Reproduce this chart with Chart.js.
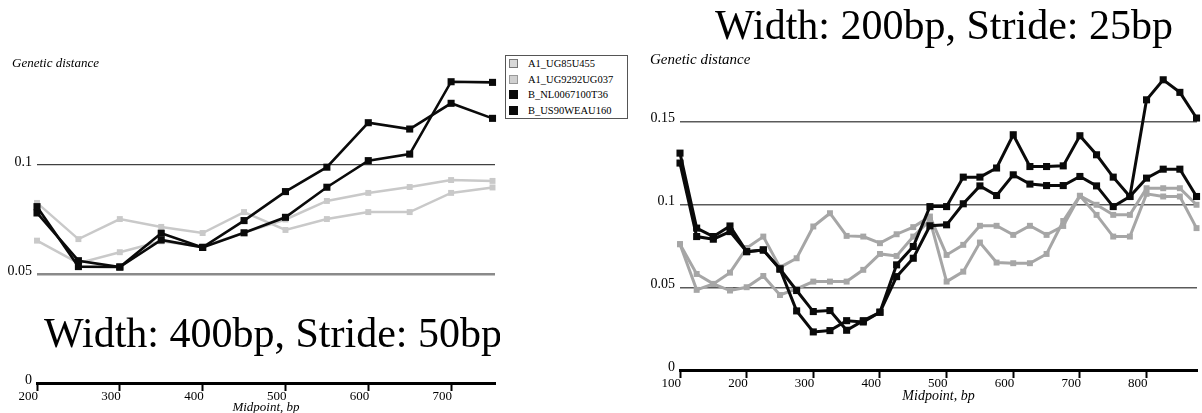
<!DOCTYPE html>
<html>
<head>
<meta charset="utf-8">
<script src="https://cdn.jsdelivr.net/npm/chart.js@4.4.1/dist/chart.umd.min.js"></script>
<style>
  html, body { margin: 0; padding: 0; background: #fff; }
  #page { position: relative; width: 1202px; height: 413px; overflow: hidden; background: #fff; }
  #leftPanel { position: absolute; left: 0; top: 0; }
  #rightPanel { position: absolute; left: 600px; top: 0; }
  #legend {
    position: absolute; left: 505px; top: 55px; width: 123px; height: 64px;
    box-sizing: border-box; border: 1px solid #555; background: #fff;
    font: 10.5px 'Liberation Serif', 'Times New Roman', serif; color: #000; z-index: 2;
  }
  #legend .row { height: 15.5px; display: flex; align-items: center; white-space: nowrap; }
  #legend .sw { width: 9px; height: 9px; box-sizing: border-box; margin-left: 3px; margin-right: 10px; border: 1px solid #666; }
</style>
</head>
<body>
<div id="page">
  <canvas id="leftPanel" width="500" height="413"></canvas>
  <canvas id="rightPanel" width="602" height="413"></canvas>
  <div id="legend"></div>
</div>
<script>
// ---- Window width 400bp, stride 50bp ----
const leftMidpoints = [200, 250, 300, 350, 400, 450, 500, 550, 600, 650, 700, 750];
const leftA1_UG85U455    = [0.0826, 0.0660, 0.0752, 0.0716, 0.0688, 0.0784, 0.0702, 0.0752, 0.0784, 0.0784, 0.0872, 0.0897];
const leftA1_UG9292UG037 = [0.0653, 0.0550, 0.0600, 0.0650, 0.0625, 0.0690, 0.0750, 0.0835, 0.0872, 0.0899, 0.0931, 0.0927];
const leftB_NL0067100T36 = [0.0809, 0.0534, 0.0532, 0.0656, 0.0622, 0.0689, 0.0760, 0.0898, 0.1020, 0.1050, 0.1382, 0.1379];
const leftB_US90WEAU160  = [0.0780, 0.0561, 0.0532, 0.0687, 0.0622, 0.0745, 0.0878, 0.0990, 0.1194, 0.1165, 0.1283, 0.1214];
const leftXTicks = [200, 300, 400, 500, 600, 700];
const leftYTicks = [0, 0.05, 0.1];

// ---- Window width 200bp, stride 25bp ----
const rightMidpoints = [100, 125, 150, 175, 200, 225, 250, 275, 300, 325, 350, 375, 400, 425, 450, 475,
                        500, 525, 550, 575, 600, 625, 650, 675, 700, 725, 750, 775, 800, 825, 850, 875];
const rightA1_UG85U455    = [0.0760, 0.0580, 0.0520, 0.0480, 0.0500, 0.0568, 0.0453, 0.0490, 0.0534, 0.0534, 0.0534, 0.0605, 0.0701, 0.0689, 0.0806, 0.0905,
                             0.0534, 0.0594, 0.0770, 0.0649, 0.0645, 0.0645, 0.0701, 0.0900, 0.1052, 0.0937, 0.0806, 0.0806, 0.1064, 0.1048, 0.1048, 0.0857];
const rightA1_UG9292UG037 = [0.0760, 0.0484, 0.0520, 0.0588, 0.0737, 0.0806, 0.0620, 0.0675, 0.0867, 0.0947, 0.0810, 0.0806, 0.0766, 0.0820, 0.0863, 0.0927,
                             0.0695, 0.0756, 0.0871, 0.0871, 0.0816, 0.0871, 0.0816, 0.0870, 0.1052, 0.0998, 0.0937, 0.0937, 0.1098, 0.1098, 0.1098, 0.0998];
const rightB_NL0067100T36 = [0.1310, 0.0857, 0.0806, 0.0870, 0.0715, 0.0725, 0.0610, 0.0480, 0.0353, 0.0359, 0.0240, 0.0298, 0.0349, 0.0635, 0.0746, 0.0987,
                             0.0987, 0.1165, 0.1165, 0.1220, 0.1421, 0.1229, 0.1229, 0.1233, 0.1415, 0.1300, 0.1165, 0.1048, 0.1632, 0.1753, 0.1677, 0.1522];
const rightB_US90WEAU160  = [0.1250, 0.0806, 0.0790, 0.0836, 0.0715, 0.0725, 0.0610, 0.0357, 0.0230, 0.0238, 0.0298, 0.0290, 0.0349, 0.0564, 0.0675, 0.0871,
                             0.0877, 0.1004, 0.1112, 0.1054, 0.1179, 0.1123, 0.1114, 0.1114, 0.1169, 0.1112, 0.0987, 0.1048, 0.1159, 0.1213, 0.1213, 0.1048];
const rightXTicks = [100, 200, 300, 400, 500, 600, 700, 800];
const rightYTicks = [0, 0.05, 0.1, 0.15];

const seriesNames = ['A1_UG85U455', 'A1_UG9292UG037', 'B_NL0067100T36', 'B_US90WEAU160'];

const SERIF = "'Liberation Serif', 'Times New Roman', serif";
Chart.defaults.font.family = SERIF;
Chart.defaults.color = '#000';

// Free-standing panel text (headline and the vertical-axis caption)
const panelText = {
  id: 'panelText',
  afterDraw(chart, args, opts) {
    const ctx = chart.ctx;
    ctx.save();
    ctx.fillStyle = '#000';
    ctx.textAlign = 'left';
    ctx.textBaseline = 'alphabetic';
    for (const item of opts.items || []) {
      ctx.font = item.font;
      ctx.fillText(item.text, item.x, item.y);
    }
    ctx.restore();
  }
};

function series(label, xs, ys, color, width, radius, order) {
  return {
    label,
    data: xs.map((x, i) => ({ x, y: ys[i] })),
    borderColor: color,
    backgroundColor: color,
    borderWidth: width,
    pointStyle: 'rect',
    pointRadius: radius,
    pointHoverRadius: radius,
    pointBorderWidth: 0,
    pointBackgroundColor: color,
    tension: 0,
    fill: false,
    clip: false,
    order
  };
}

function panelOptions(cfg) {
  return {
    responsive: false,
    animation: false,
    events: [],
    layout: { padding: { top: cfg.padTop, right: cfg.padRight, left: 0, bottom: 0 } },
    plugins: {
      legend: { display: false },
      tooltip: { enabled: false },
      panelText: { items: cfg.texts }
    },
    scales: {
      x: {
        type: 'linear',
        min: cfg.xMin,
        max: cfg.xMax,
        afterBuildTicks: s => { s.ticks = cfg.xTicks.map(v => ({ value: v })); },
        afterFit: s => { s.height = cfg.xAxisHeight; },
        border: { display: true, color: '#000', width: 3 },
        grid: { drawOnChartArea: false, drawTicks: true, tickLength: 8, tickWidth: 2, tickColor: '#000', color: '#000' },
        ticks: {
          align: 'end', padding: -2, labelOffset: 1, autoSkip: false, maxRotation: 0,
          font: { size: 13 }, callback: v => String(v)
        },
        title: {
          display: true, text: 'Midpoint, bp',
          font: { size: cfg.axisTitleSize, style: 'italic', lineHeight: 1 },
          padding: { top: 0, bottom: cfg.axisTitlePad }
        }
      },
      y: {
        type: 'linear',
        min: 0,
        max: cfg.yMax,
        afterBuildTicks: s => { s.ticks = cfg.yTicks.map(v => ({ value: v })); },
        afterFit: s => { s.width = cfg.yAxisWidth; },
        border: { display: false },
        grid: {
          drawTicks: false,
          color: c => (c.tick && c.tick.value === 0) ? 'rgba(0,0,0,0)' : cfg.gridColor(c.tick ? c.tick.value : 0),
          lineWidth: c => cfg.gridWidth(c.tick ? c.tick.value : 0)
        },
        ticks: { padding: 5, labelOffset: -3, font: { size: cfg.yLabelSize }, callback: v => String(v) }
      }
    }
  };
}

const LIGHT = '#c9c9c9';
const GREY = '#a6a6a6';
const BLACK = '#0a0a0a';

new Chart(document.getElementById('leftPanel'), {
  type: 'line',
  data: {
    datasets: [
      series(seriesNames[0], leftMidpoints, leftA1_UG85U455, LIGHT, 2.5, 4.2, 2),
      series(seriesNames[1], leftMidpoints, leftA1_UG9292UG037, LIGHT, 2.5, 4.2, 2),
      series(seriesNames[2], leftMidpoints, leftB_NL0067100T36, BLACK, 2.6, 5, 1),
      series(seriesNames[3], leftMidpoints, leftB_US90WEAU160, BLACK, 2.6, 5, 1)
    ]
  },
  options: panelOptions({
    padTop: 56, padRight: 3,
    xMin: 200, xMax: 753, xTicks: leftXTicks, xAxisHeight: 30,
    yMax: 0.15, yTicks: leftYTicks, yAxisWidth: 37, yLabelSize: 14,
    axisTitleSize: 13, axisTitlePad: -1.5,
    gridColor: v => v === 0.05 ? '#8a8a8a' : '#404040',
    gridWidth: v => v === 0.05 ? 2.5 : 1.2,
    texts: [
      { text: 'Genetic distance', x: 12, y: 67, font: 'italic 13px ' + SERIF },
      { text: 'Width: 400bp, Stride: 50bp', x: 44, y: 347, font: '42px ' + SERIF }
    ]
  }),
  plugins: [panelText]
});

new Chart(document.getElementById('rightPanel'), {
  type: 'line',
  data: {
    datasets: [
      series(seriesNames[0], rightMidpoints, rightA1_UG85U455, GREY, 3, 4.2, 2),
      series(seriesNames[1], rightMidpoints, rightA1_UG9292UG037, GREY, 3, 4.2, 2),
      series(seriesNames[2], rightMidpoints, rightB_NL0067100T36, BLACK, 3, 5, 1),
      series(seriesNames[3], rightMidpoints, rightB_US90WEAU160, BLACK, 3, 5, 1)
    ]
  },
  options: panelOptions({
    padTop: 72, padRight: 0,
    xMin: 100, xMax: 875.7, xTicks: rightXTicks, xAxisHeight: 43,
    yMax: 0.18, yTicks: rightYTicks, yAxisWidth: 80, yLabelSize: 14,
    axisTitleSize: 14, axisTitlePad: 10,
    gridColor: () => '#5a5a5a',
    gridWidth: () => 1.4,
    texts: [
      { text: 'Genetic distance', x: 50, y: 64, font: 'italic 15px ' + SERIF },
      { text: 'Width: 200bp, Stride: 25bp', x: 115, y: 39, font: '42px ' + SERIF }
    ]
  }),
  plugins: [panelText]
});

// Legend for the 400bp panel
const legendSwatches = [
  { fill: '#d8d8d8', edge: '#777' },
  { fill: '#d0d0d0', edge: '#999' },
  { fill: BLACK, edge: BLACK },
  { fill: BLACK, edge: BLACK }
];
const legendEl = document.getElementById('legend');
seriesNames.forEach((name, i) => {
  const row = document.createElement('div');
  row.className = 'row';
  const sw = document.createElement('span');
  sw.className = 'sw';
  sw.style.background = legendSwatches[i].fill;
  sw.style.borderColor = legendSwatches[i].edge;
  const label = document.createElement('span');
  label.textContent = name;
  row.appendChild(sw);
  row.appendChild(label);
  legendEl.appendChild(row);
});
</script>
</body>
</html>
